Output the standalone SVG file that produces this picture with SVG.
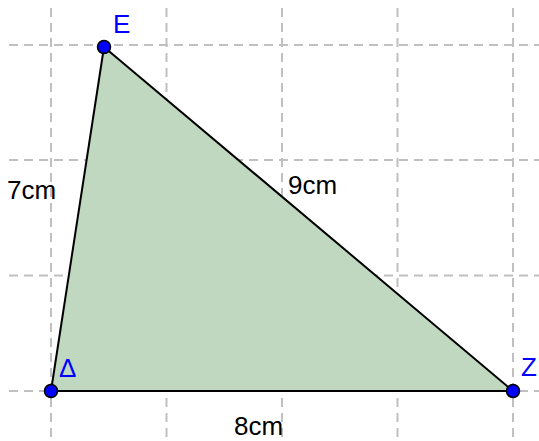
<svg xmlns="http://www.w3.org/2000/svg" width="539" height="441" viewBox="0 0 539 441">
<style>
.grid{stroke:#c0c0c0;stroke-width:2;stroke-dasharray:9,6;fill:none}
.edge{stroke:#000;stroke-width:2;fill:none}
.pt{fill:#0000ff;stroke:#000;stroke-width:1.5}
.lbl{font-family:"Liberation Sans",Arial,sans-serif;font-size:26px;fill:#0000ff}
.len{font-family:"Liberation Sans",Arial,sans-serif;font-size:26px;fill:#000}
</style>
<g id="grid">
<line class="grid" x1="51" y1="8" x2="51" y2="441"/>
<line class="grid" x1="166.5" y1="8" x2="166.5" y2="441"/>
<line class="grid" x1="282" y1="8" x2="282" y2="441"/>
<line class="grid" x1="397.5" y1="8" x2="397.5" y2="441"/>
<line class="grid" x1="513" y1="8" x2="513" y2="441"/>
<line class="grid" x1="9" y1="45" x2="539" y2="45"/>
<line class="grid" x1="9" y1="160" x2="539" y2="160"/>
<line class="grid" x1="9" y1="275.5" x2="539" y2="275.5"/>
<line class="grid" x1="9" y1="391" x2="539" y2="391"/>
</g>
<g id="triangle">
<polygon points="104,47 51,391 513,391" fill="#bfd8bf" stroke="none"/>
</g>
<g id="connectors">
<line class="edge" x1="104" y1="47" x2="51" y2="391"/>
<line class="edge" x1="104" y1="47" x2="513" y2="391"/>
<line class="edge" x1="51" y1="391" x2="513" y2="391"/>
</g>
<g id="E"><circle class="pt" cx="104" cy="47" r="6.5"/><text class="lbl" x="113" y="33">E</text></g>
<g id="Delta"><circle class="pt" cx="51" cy="391" r="6.5"/><text class="lbl" x="59" y="377">Δ</text></g>
<g id="Z"><circle class="pt" cx="513" cy="391" r="6.5"/><text class="lbl" x="521" y="376">Z</text></g>
<g id="labels">
<text class="len" x="7" y="199">7cm</text>
<text class="len" x="288" y="194">9cm</text>
<text class="len" x="234" y="435">8cm</text>
</g>
</svg>
